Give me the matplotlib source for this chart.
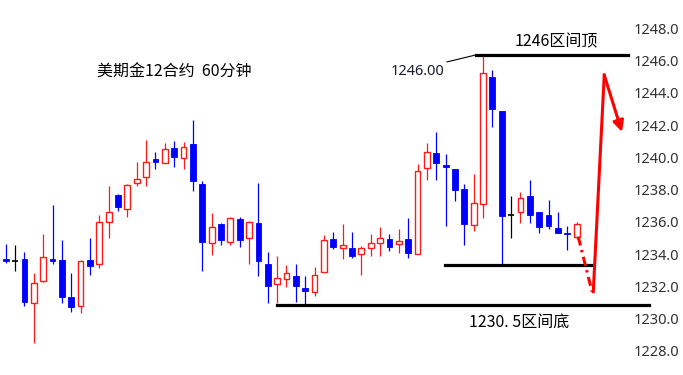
import numpy as np
import matplotlib
matplotlib.use('Agg')
import matplotlib.pyplot as plt
from matplotlib.patches import Rectangle
from matplotlib.transforms import ScaledTranslation

plt.rcParams['font.family'] = ['Noto Sans CJK SC', 'DejaVu Sans']

# gold Dec contract, 60 minute bars
opens = [1233.35, 1233.25, 1233.35, 1230.60, 1232.01, 1233.35, 1233.29, 1231.02, 1230.44, 1233.29,
         1233.02, 1235.65, 1237.30, 1236.43, 1238.05, 1238.44, 1239.53, 1239.30, 1240.23, 1239.60,
         1240.48, 1238.00, 1234.33, 1235.52, 1234.39, 1235.85, 1234.65, 1235.60, 1233.04, 1231.78,
         1232.11, 1232.32, 1231.57, 1231.31, 1232.55, 1234.59, 1234.03, 1234.03, 1233.64, 1234.03,
         1234.34, 1234.57, 1234.30, 1234.57, 1233.66, 1238.98, 1239.92, 1239.16, 1238.95, 1237.71,
         1235.44, 1236.74, 1244.64, 1242.53, 1236.08, 1236.25, 1237.26, 1236.25, 1236.06, 1235.29,
         1234.95, 1234.70]
highs = [1234.28, 1234.20, 1233.77, 1232.47, 1234.90, 1236.70, 1234.51, 1232.50, 1233.29, 1234.67,
         1236.06, 1237.90, 1237.40, 1238.00, 1239.38, 1240.71, 1240.00, 1240.56, 1240.65, 1240.59,
         1241.97, 1238.19, 1236.22, 1235.60, 1235.98, 1235.94, 1235.71, 1238.05, 1233.77, 1233.54,
         1232.98, 1233.02, 1232.28, 1232.88, 1234.82, 1235.01, 1235.54, 1235.01, 1234.16, 1234.88,
         1235.36, 1234.88, 1235.21, 1235.91, 1239.26, 1240.53, 1241.21, 1239.84, 1238.95, 1237.98,
         1238.62, 1245.94, 1245.07, 1242.53, 1237.26, 1237.53, 1238.25, 1236.25, 1236.99, 1236.25,
         1235.40, 1235.67]
lows = [1233.09, 1232.63, 1230.44, 1228.13, 1231.91, 1233.02, 1230.60, 1230.05, 1229.99, 1232.36,
        1232.78, 1234.64, 1236.33, 1235.94, 1237.86, 1237.88, 1238.95, 1239.29, 1239.04, 1238.95,
        1237.57, 1232.63, 1233.62, 1234.22, 1234.22, 1234.08, 1233.06, 1232.30, 1230.64, 1230.60,
        1231.62, 1230.67, 1230.50, 1231.08, 1232.55, 1233.99, 1233.37, 1233.40, 1232.36, 1233.54,
        1233.54, 1233.85, 1233.74, 1233.40, 1233.66, 1238.27, 1238.27, 1235.40, 1236.97, 1234.22,
        1235.09, 1235.88, 1241.52, 1233.04, 1234.64, 1235.57, 1235.57, 1234.95, 1235.21, 1234.95,
        1233.91, 1234.58]
closes = [1233.23, 1233.25, 1230.67, 1231.85, 1233.50, 1233.23, 1230.98, 1230.36, 1233.21, 1232.92,
          1235.67, 1236.29, 1236.58, 1237.92, 1238.29, 1239.38, 1239.35, 1240.15, 1239.68, 1240.31,
          1238.19, 1234.39, 1235.36, 1234.55, 1235.91, 1234.55, 1235.67, 1233.23, 1231.68, 1232.19,
          1232.48, 1231.70, 1231.37, 1232.34, 1234.51, 1234.08, 1234.20, 1233.56, 1234.03, 1234.34,
          1234.65, 1234.08, 1234.47, 1233.71, 1238.83, 1240.00, 1239.29, 1239.06, 1237.63, 1235.54,
          1236.82, 1244.90, 1242.63, 1236.04, 1236.08, 1237.12, 1236.10, 1235.32, 1235.40, 1234.98,
          1234.88, 1235.52]

price_ticks = [1228.0, 1230.0, 1232.0, 1234.0, 1236.0, 1238.0, 1240.0, 1242.0, 1244.0, 1246.0, 1248.0]
range_top = 1246.0
range_bottom = 1230.5
support = 1233.0
title_text = '美期金12合约  60分钟'
top_label = '1246区间顶'
bottom_label = '1230. 5区间底'
high_label = '1246.00'

fig = plt.figure(figsize=(6.83, 3.75), dpi=100)
ax = fig.add_axes([0, 0, 0.9195, 1])
ax.set_xlim(-0.61, 66.49)
ax.set_ylim(1226.16, 1249.41)

w = 0.62
for i in range(len(opens)):
    o, h, l, c = opens[i], highs[i], lows[i], closes[i]
    if c > o:
        col = '#ff1a1a'
    elif c < o:
        col = '#0000ff'
    else:
        col = 'black'
    ax.vlines(i, l, h, color=col, lw=0.9, zorder=2)
    if c == o:
        ax.hlines(o, i - w / 2, i + w / 2, color=col, lw=1.2, zorder=3)
    elif c > o:
        ax.add_patch(Rectangle((i - w / 2, o), w, c - o, facecolor='white',
                               edgecolor=col, lw=1.0, zorder=3))
    else:
        ax.add_patch(Rectangle((i - w / 2, c), w, o - c, facecolor=col,
                               edgecolor=col, lw=0.6, zorder=3))

# range lines
ax.plot([50.25, 66.49], [range_top, range_top], color='black', lw=2.3, clip_on=False)
ax.plot([47.15, 50.2], [1245.57, range_top], color='black', lw=0.8)
ax.plot([46.93, 62.75], [support, support], color='black', lw=2.3)
ax.plot([28.95, 68.73], [range_bottom, range_bottom], color='black', lw=2.3, clip_on=False)

# projected path
ax.plot([61.17, 62.64], [1234.74, 1231.33], color='red', lw=2.2,
        ls=(0, (3, 1.5, 0.8, 1.5)), zorder=4)
ax.plot([62.78, 63.95], [1231.33, 1244.76], color='red', lw=2.2, zorder=4,
        solid_joinstyle='miter')
ax.annotate('', xy=(65.84, 1241.23), xytext=(63.95, 1244.76),
            arrowprops=dict(arrowstyle='-|>', color='red', lw=2.2,
                            mutation_scale=16, shrinkA=0, shrinkB=0), zorder=4)

# texts
ax.text(9.75, 1244.95, title_text, fontsize=11.5, va='center', ha='left', color='black')
ax.text(46.9, 1244.98, high_label, fontsize=10.5, va='center', ha='right',
        color='#1a1a33', family=['Noto Sans', 'DejaVu Sans'])
ax.text(58.8, 1246.81, top_label, fontsize=11.5, va='center', ha='center', color='black')
ax.text(54.9, 1229.45, bottom_label, fontsize=11.5, va='center', ha='center', color='black')

# price axis on the right
ax.yaxis.tick_right()
ax.set_yticks(price_ticks)
ax.set_yticklabels(['%.1f' % p for p in price_ticks], family=['Noto Sans', 'DejaVu Sans'],
                   fontsize=10.5, color='#333333')
ax.tick_params(axis='y', length=0, pad=4)
ax.set_xticks([])
for s in ax.spines.values():
    s.set_visible(False)

offset = ScaledTranslation(0, -0.055, fig.dpi_scale_trans)
for t in ax.yaxis.get_major_ticks():
    t.label2.set_transform(t.label2.get_transform() + offset)

fig.savefig('out.png', dpi=100, facecolor='white')
